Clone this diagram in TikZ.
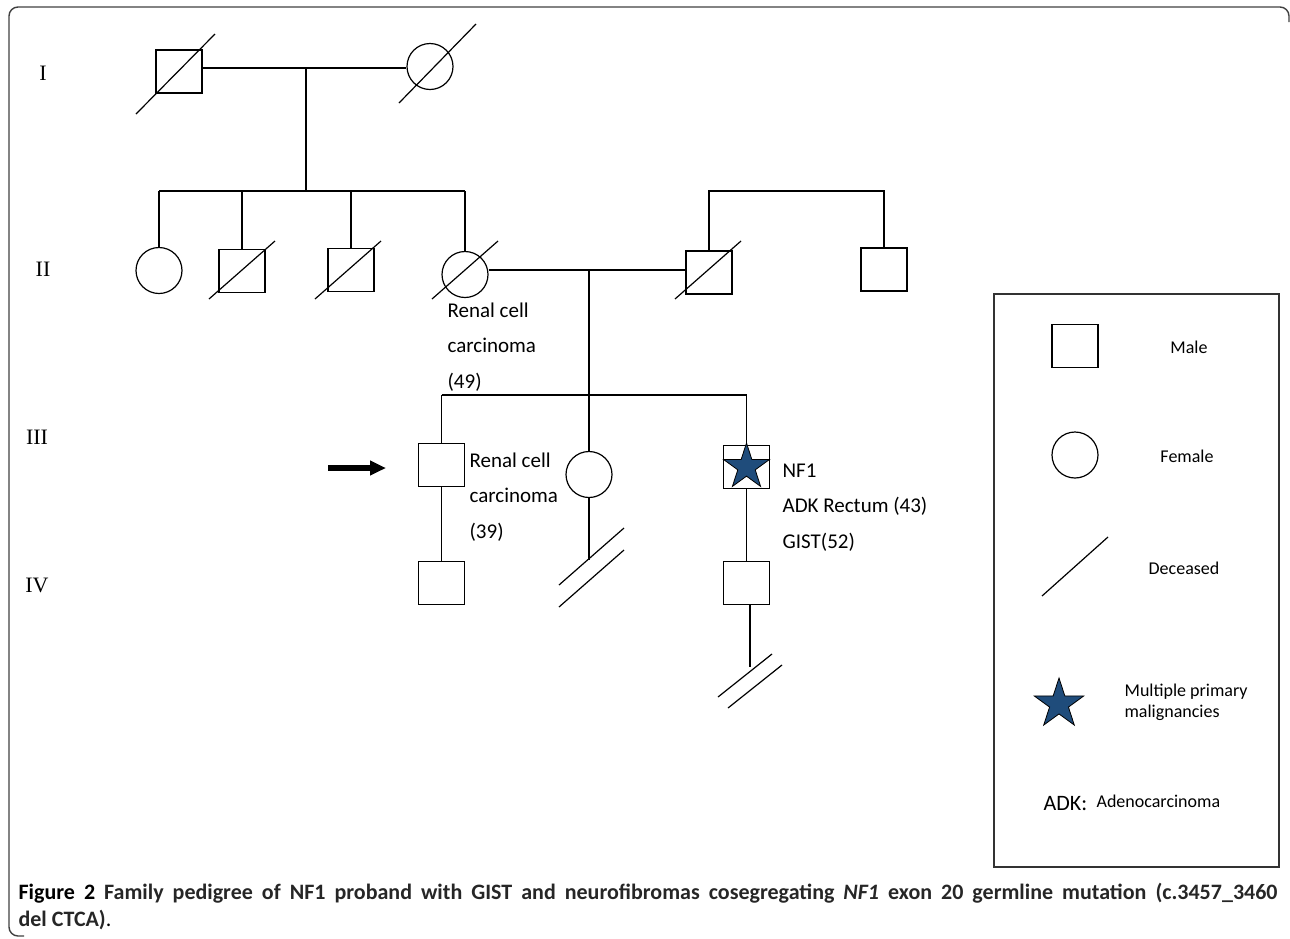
\documentclass[tikz,border=0pt]{standalone}
\usepackage{fontspec}
\setmainfont{Carlito}
\newfontfamily\romfont{Liberation Serif}
\usetikzlibrary{shapes.geometric,arrows.meta}
\definecolor{stardark}{RGB}{31,76,123}
\tikzset{every picture/.style={line width=1.2pt}}
\tikzset{
  male/.style={draw, rectangle, minimum width=46pt, minimum height=43pt, inner sep=0pt},
  female/.style={draw, circle, minimum size=46pt, inner sep=0pt},
  mpm/.style={star, star points=5, star point ratio=2.618, draw, line width=0.8pt, fill=stardark, inner sep=0pt, minimum size=48pt},
  gen/.style={font=\romfont\fontsize{22}{26}\selectfont},
  note/.style={anchor=north west, inner sep=0pt, align=left, font=\fontsize{21}{35.5}\selectfont},
  key/.style={inner sep=0pt, font=\fontsize{18}{21}\selectfont},
}
% slash for a deceased person: start offset, then length
\newcommand{\deceased}[3]{\draw (#1.center) ++#2 -- ++#3;}

\begin{document}
\begin{tikzpicture}[x=1pt,y=1pt,yscale=-1]
\useasboundingbox (0,0) rectangle (1290,938);

% frame
\draw [line width=1.4pt, black!75, rounded corners=9pt] (1289,22) -- (1289,7) -- (9,7) -- (9,936) -- (24,936);

% generations
\node [gen] (gI) at (43,73) {I};
\node [gen] (gII) at (43,269) {II};
\node [gen] (gIII) at (37,437) {III};
\node [gen] (gIV) at (37,585) {IV};

% generation I
\node [male] (I1) at (179,71.5) {};
\node [female] (I2) at (430,66.5) {};
\deceased{I1}{(-43,42.5)}{(79,-80)}
\deceased{I2}{(-31,36.5)}{(77,-79)}
\coordinate (mI) at (306,68);
\coordinate (sII) at (306,191);
\draw (I1.east |- mI) -- (I2.west |- mI);
\draw (mI) -- (sII);

% generation II
\node [female] (II1) at (159,270.5) {};
\node [male] (II2) at (242,271) {};
\node [male] (II3) at (351,270) {};
\node [female] (II4) at (465,274.5) {};
\node [male] (II5) at (709,272.5) {};
\node [male] (II6) at (884,269.5) {};
\deceased{II2}{(-33,28)}{(66,-58)}
\deceased{II3}{(-36,29)}{(66,-58)}
\deceased{II4}{(-33,24.5)}{(66,-58)}
\deceased{II5}{(-34,26.5)}{(66,-58)}
\draw (II1.north |- sII) -- (II4.north |- sII);
\foreach \n in {II1,II2,II3,II4}
  \draw (\n.north) -- (\n.north |- sII);
\draw (II5.north) |- (II6.north |- sII) -- (II6.north);
\coordinate (mII) at (589,270);
\coordinate (sIII) at (589,395);
\draw (II4.east |- mII) -- (II5.west |- mII);

% generation III
\node [male] (III1) at (441.5,465) {};
\node [female] (III2) at (589,474.5) {};
\node [male] (III3) at (746.5,467) {};
\node [mpm] (III3s) at (III3.center) {};
\draw (mII) -- (III2.north);
\draw (III1.north |- sIII) -- (III3.north |- sIII);
\draw (III1.north) -- (III1.north |- sIII);
\draw (III3.north) -- (III3.north |- sIII);

% proband
\coordinate (pa) at (328,468);
\coordinate (pb) at (386,468);
\draw [-{Triangle[length=16pt,width=14pt]}, line width=6pt] (pa) -- (pb);

% generation IV
\node [male] (IV1) at (441.5,583) {};
\node [male] (IV2) at (746.5,583) {};
\draw (III1) -- (IV1);
\draw (III3) -- (IV2);

% no offspring
\coordinate (nI) at (589,560);
\draw (III2) -- (nI);
\draw (nI) ++(-30,25) -- ++(65,-57);
\draw (nI) ++(-30,47) -- ++(65,-57);
\coordinate (nII) at (750,667);
\draw (IV2.south -| nII) -- (nII);
\draw (nII) ++(-32,30) -- ++(54,-43);
\draw (nII) ++(-22,41) -- ++(54,-43);

% notes
\node [note] (t49) at (447,302) {Renal cell\\carcinoma\\(49)};
\node [note] (t39) at (469,452) {Renal cell\\carcinoma\\(39)};
\node [note] (tnf) at (782,463) {NF1\\ADK Rectum (43)\\GIST(52)};

% legend
\node [draw, line width=1.3pt, black!80, minimum width=285pt, minimum height=573pt, inner sep=0pt] (legend) at (1136.5,580.5) {};
\node [male] (kM) at (1075,346) {};
\node [key] (kMt) at (1189,347) {Male};
\node [female] (kF) at (1075,455) {};
\node [key] (kFt) at (1187,456) {Female};
\coordinate (kD) at (1042,596);
\draw (kD) -- ++(66,-59);
\node [key] (kDt) at (1184,568) {Deceased};
\node [mpm, minimum size=52pt] (kS) at (1059,704) {};
\node [key, anchor=west, align=left] (kSt) at (1124,702) {Multiple primary\\malignancies};
\node [inner sep=0pt, anchor=west, font=\fontsize{22}{26}\selectfont] (kA) at (1043,804) {ADK:};
\node [key, anchor=west] (kAt) at (1096,801) {Adenocarcinoma};

% caption
\node [anchor=north west, inner sep=0pt, text width=1259pt, align=justify, font=\fontsize{22}{27}\selectfont] (cap) at (18,883)
  {\textbf{Figure 2} {\bfseries\color{black!85}Family pedigree of NF1 proband with GIST and neurofibromas cosegregating \textit{NF1} exon 20 germline mutation (c.3457\_3460\linebreak del CTCA)}.};

\end{tikzpicture}
\end{document}
